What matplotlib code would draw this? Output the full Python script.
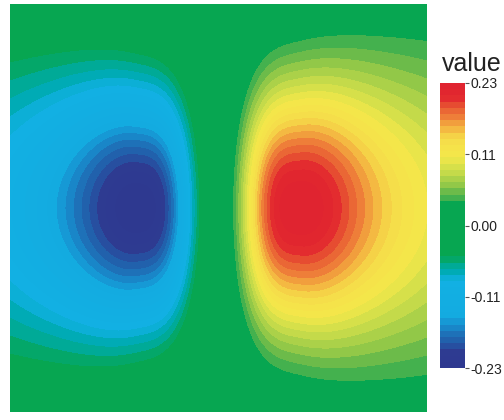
import numpy as np
import matplotlib
matplotlib.use("Agg")
import matplotlib.pyplot as plt
from matplotlib.colors import LinearSegmentedColormap

plt.rcParams['font.family'] = ['Liberation Sans', 'DejaVu Sans']

# Field: antisymmetric pair of lobes (negative left, positive right)
x_range = [-2.0, 2.0]
y_range = [-2.0, 2.0]
lobe_center = 0.806     # distance of each lobe maximum from x = 0
width_inner = 0.556     # spread of a lobe towards the centre line
shape_inner = 3.3       # flat-topped fall-off towards the centre line
width_outer = 0.652     # spread of the long tail towards the outer edge
height_core = 0.82      # vertical spread at the lobe maximum
height_growth = 0.27    # extra vertical spread per unit outward from the maximum
growth_soft = 0.288     # smoothing length of that growth
value_max = 0.2295      # peak magnitude of the field

# Colour scale
value_limits = [-0.23, 0.23]
level_step = 0.01
tick_values = [-0.23, -0.115, 0.0, 0.115, 0.23]
tick_labels = ["-0.23", "-0.11", "0.00", "0.11", "0.23"]
color_stops = [
    (-0.23, '#2E3990'),
    (-0.203, '#2E3B91'),
    (-0.199, '#2A4A9C'),
    (-0.19, '#2358A6'),
    (-0.175, '#1E73B9'),
    (-0.16, '#1790CF'),
    (-0.148, '#13ABE0'),
    (-0.09, '#12B0E3'),
    (-0.078, '#00ACC0'),
    (-0.062, '#00A98A'),
    (-0.05, '#07A651'),
    (0.037, '#07A651'),
    (0.045, '#3FB04E'),
    (0.055, '#6CBB4A'),
    (0.068, '#9ACB48'),
    (0.083, '#BFD84A'),
    (0.098, '#DCE24A'),
    (0.112, '#F4E84A'),
    (0.135, '#F5E04A'),
    (0.15, '#F5CB45'),
    (0.16, '#F3AE40'),
    (0.17, '#F08E3B'),
    (0.18, '#EC7337'),
    (0.19, '#E85A33'),
    (0.2, '#E5412F'),
    (0.208, '#E2272F'),
    (0.23, '#E02330'),
]

xs = np.linspace(x_range[0], x_range[1], 600)
ys = np.linspace(y_range[0], y_range[1], 600)
X, Y = np.meshgrid(xs, ys)


def lobe(d):
    offset = d - lobe_center
    inner = np.exp(-np.abs(offset / width_inner) ** shape_inner)
    outer = 1.0 / np.sqrt(1.0 + (offset / width_outer) ** 2)
    return np.where(offset < 0, inner, outer)


def softplus(u, w):
    return w * np.logaddexp(0.0, u / w)


profile_x = lobe(X) - lobe(-X)
spread_y = height_core + height_growth * softplus(np.abs(X) - lobe_center,
                                                  growth_soft)
profile_y = np.exp(-Y ** 2 / (2.0 * spread_y ** 2))
Z = profile_x * profile_y
Z = Z / np.abs(Z).max() * value_max

vmin, vmax = value_limits
cmap = LinearSegmentedColormap.from_list(
    "value_scale",
    [((v - vmin) / (vmax - vmin), c) for v, c in color_stops],
)
levels = np.linspace(vmin, vmax, int(round((vmax - vmin) / level_step)) + 1)

W, H = 504, 420
fig = plt.figure(figsize=(W / 100, H / 100), dpi=100)
ax = fig.add_axes([10 / W, 1 - 412 / H, 417 / W, 408 / H])
cs = ax.contourf(X, Y, Z, levels=levels, cmap=cmap, vmin=vmin, vmax=vmax)
cs.set_edgecolor('face')
cs.set_linewidth(0.6)
ax.set_xlim(x_range)
ax.set_ylim(y_range)
ax.set_axis_off()

cax = fig.add_axes([440 / W, 1 - 368 / H, 25 / W, 285 / H])
cb = fig.colorbar(cs, cax=cax)
cb.outline.set_visible(False)
cb.set_ticks(tick_values)
cb.set_ticklabels(tick_labels)
cax.tick_params(axis='y', length=3, width=0.8, color='#555555', pad=1,
                labelsize=10, labelcolor='#222222')

fig.text(442 / W, 1 - 71 / H, "value", fontsize=18, ha='left',
         va='baseline', color='#222222')

fig.savefig("out.png", dpi=100)
